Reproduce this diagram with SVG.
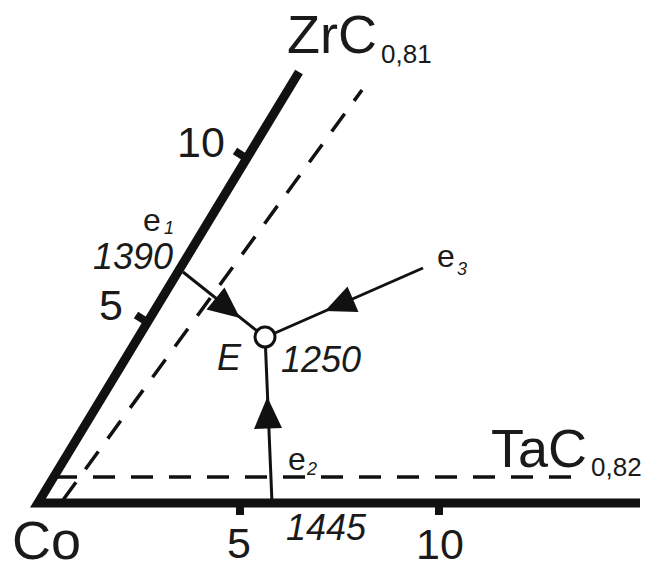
<svg xmlns="http://www.w3.org/2000/svg" width="650" height="567" viewBox="0 0 650 567">
  <defs>
    <style>
      text { font-family: "Liberation Sans", Arial, sans-serif; fill: #1a1a1a; }
      .big { font-size: 54px; }
      .sub { font-size: 26px; }
      .num { font-size: 43px; }
      .it { font-style: italic; font-size: 36px; }
      .e { font-size: 32px; }
      .es { font-size: 18px; font-style: italic; }
      .axis { fill: none; stroke: #111; stroke-width: 9; stroke-linejoin: miter; }
      .tick { stroke: #111; stroke-width: 8; }
      .dash { fill: none; stroke: #111; stroke-width: 3.5; stroke-dasharray: 22 16; }
      .path { fill: none; stroke: #111; stroke-width: 3; }
      .head { fill: #111; }
    </style>
  </defs>
  <rect width="650" height="567" fill="#ffffff"/>

  <g id="axes">
    <polyline class="axis" points="299,72 38,503 640,503"/>
    <line class="tick" x1="240" y1="505" x2="240" y2="515"/>
    <line class="tick" x1="439" y1="505" x2="439" y2="515"/>
    <line class="tick" x1="246" y1="158" x2="235" y2="151"/>
    <line class="tick" x1="147" y1="322" x2="136" y2="315"/>
  </g>

  <g id="dashed-lines">
    <line class="dash" x1="63" y1="500" x2="362" y2="90"/>
    <line class="dash" x1="55" y1="477" x2="572" y2="477"/>
  </g>

  <g id="connectors">
    <line class="path" x1="183" y1="272" x2="257" y2="331"/>
    <polygon class="head" points="240,318 206.5,309.5 224.5,287.5"/>
    <line class="path" x1="423" y1="268" x2="275" y2="333"/>
    <polygon class="head" points="325,311 358.5,312 347.5,286.5"/>
    <line class="path" x1="272" y1="503" x2="265.5" y2="347"/>
    <polygon class="head" points="267.3,397 254,429 282,428"/>
  </g>

  <g id="node-E">
    <circle cx="265" cy="337" r="10" fill="#ffffff" stroke="#111" stroke-width="3"/>
    <text class="it" x="217" y="370" font-size="35">E</text>
    <text class="it" x="281" y="372">1250</text>
  </g>

  <g id="node-e1">
    <text class="e" x="143" y="231">e</text>
    <text class="es" x="164" y="234">1</text>
    <text class="it" x="173" y="269" text-anchor="end">1390</text>
  </g>

  <g id="node-e2">
    <text class="e" x="288" y="470">e</text>
    <text class="es" x="307" y="475">2</text>
  </g>

  <g id="node-e3">
    <text class="e" x="437" y="267">e</text>
    <text class="es" x="457" y="275">3</text>
  </g>

  <g id="labels">
    <text class="big" x="12" y="559" font-size="50">Co</text>
    <text class="big" x="287" y="53">ZrC</text>
    <text class="sub" x="381" y="63">0,81</text>
    <text class="big" x="491" y="467" font-size="56">TaC</text>
    <text class="sub" x="591" y="476">0,82</text>
    <text class="num" x="177" y="157">10</text>
    <text class="num" x="99" y="320">5</text>
    <text class="num" x="227" y="558">5</text>
    <text class="num" x="416" y="559">10</text>
    <text class="it" x="286" y="540">1445</text>
  </g>
</svg>
